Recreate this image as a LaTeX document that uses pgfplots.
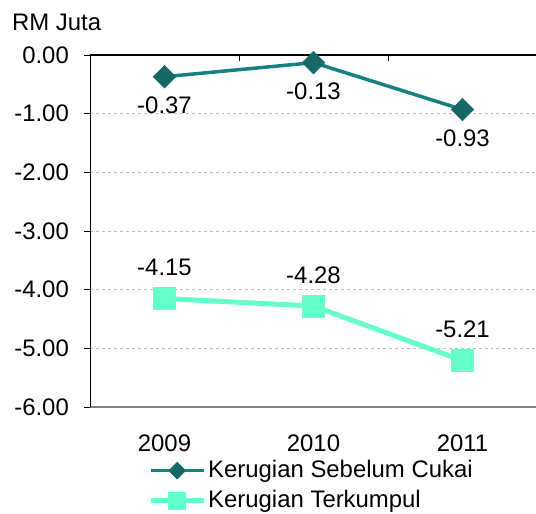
\documentclass[border=0pt]{standalone}
\usepackage{pgfplots}
\pgfplotsset{compat=1.18}
\usepackage{fontspec}
\setmainfont{Liberation Sans}
\definecolor{tealline}{RGB}{23,128,128}
\definecolor{tealmark}{RGB}{22,104,102}
\definecolor{aqua}{RGB}{102,255,204}
\definecolor{gridc}{RGB}{190,190,200}
\begin{document}
\fontsize{24}{28}\selectfont
\begin{tikzpicture}
\begin{axis}[
  name=ax,
  scale only axis, width=447bp, height=352bp,
  xmin=-0.5, xmax=2.5, ymin=-6, ymax=0,
  separate axis lines,
  axis x line=bottom, axis y line=left,
  axis line style={-},
  x axis line style={draw=gray, line width=1.5bp},
  y axis line style={draw=black, line width=0.8bp},
  xtick={0,1,2}, xticklabels={2009,2010,2011},
  x tick style={draw=none},
  xticklabel style={yshift=-14bp},
  ytick={-6,-5,...,0},
  y tick style={draw=black, line width=0.8bp},
  tick align=outside, major tick length=6bp,
  /pgf/number format/assume math mode=true,
  yticklabel style={xshift=-7bp, /pgf/number format/fixed, /pgf/number format/fixed zerofill, /pgf/number format/precision=2},
  ymajorgrids, grid style={gridc, dashed, line width=0.6bp},
  clip=false,
  legend style={draw=none, fill=none, at={(rel axis cs:0,0)}, anchor=north west, xshift=58bp, yshift=-51bp, row sep=5bp, inner sep=0pt},
  legend cell align=left,
  legend image code/.code={\draw[mark repeat=2, mark phase=2, #1] plot coordinates {(0bp,0bp) (26.5bp,0bp) (53bp,0bp)};},
  nodes near coords={\pgfmathprintnumber[fixed,fixed zerofill,precision=2]{\pgfplotspointmeta}},
]
\addplot[forget plot, color=tealline, line width=3.5bp, mark=square*, mark size=8bp,
  mark options={rotate=45, fill=tealmark, draw=tealmark, line width=0.5bp},
  every node near coord/.append style={anchor=center, yshift=-29bp, text=black}]
  coordinates {(0,-0.37) (1,-0.13) (2,-0.93)};
\addplot[forget plot, color=aqua, line width=5bp, mark=square*, mark size=11bp,
  mark options={fill=aqua, draw=aqua, line width=0.5bp, rounded corners=2bp},
  every node near coord/.append style={anchor=center, yshift=31bp, text=black}]
  coordinates {(0,-4.15) (1,-4.28) (2,-5.21)};
\addlegendimage{color=tealline, line width=3.5bp, mark=square*, mark size=6bp,
  mark options={rotate=45, fill=tealmark, draw=tealmark, line width=0.5bp}}
\addlegendentry{Kerugian Sebelum Cukai}
\addlegendimage{color=aqua, line width=5bp, mark=square*, mark size=8.5bp,
  mark options={fill=aqua, draw=aqua, line width=0.5bp, rounded corners=2bp}}
\addlegendentry{Kerugian Terkumpul}
\draw[black, line width=1.2bp] (rel axis cs:0,1) -- (rel axis cs:1,1);
\draw[black, line width=0.8bp] (axis cs:0.5,0) -- ([yshift=-6bp]axis cs:0.5,0);
\draw[black, line width=0.8bp] (axis cs:1.5,0) -- ([yshift=-6bp]axis cs:1.5,0);
\node[anchor=base west, inner sep=0pt] at ([xshift=-78bp, yshift=24.5bp]rel axis cs:0,1) {RM Juta};
\end{axis}
\pgfresetboundingbox
\path ([shift={(-90bp,-107bp)}]ax.south west) rectangle ([shift={(446bp,407bp)}]ax.south west);
\end{tikzpicture}
\end{document}
